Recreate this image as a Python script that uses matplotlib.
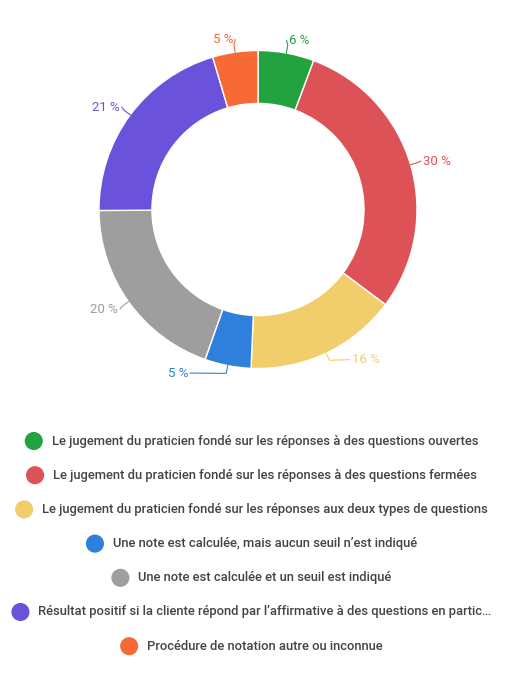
import numpy as np
import matplotlib
matplotlib.use("Agg")
import matplotlib.pyplot as plt

# categories (legend order = slice order, clockwise from top)
categories = [
    "Le jugement du praticien fondé sur les réponses à des questions ouvertes",
    "Le jugement du praticien fondé sur les réponses à des questions fermées",
    "Le jugement du praticien fondé sur les réponses aux deux types de questions",
    "Une note est calculée, mais aucun seuil n’est indiqué",
    "Une note est calculée et un seuil est indiqué",
    "Résultat positif si la cliente répond par l’affirmative à des questions en partic…",
    "Procédure de notation autre ou inconnue",
]
# shares, labels as printed on the chart
shares = [5.7, 29.5, 15.5, 4.7, 19.5, 20.5, 4.6]
pct_labels = ["6 %", "30 %", "16 %", "5 %", "20 %", "21 %", "5 %"]
colors = ["#22a340", "#dc5257", "#f2cd6b", "#2f7fdd", "#9e9e9e", "#6b52db", "#f86a35"]

plt.rcParams['font.family'] = ['Roboto', 'DejaVu Sans']

W, H = 515, 681
fig = plt.figure(figsize=(W / 100, H / 100), dpi=100)
ax = fig.add_axes([0, 0, 1, 1])

cx, cy, R = 258, H - 209.5, 159
wedges, _ = ax.pie(shares, colors=colors, startangle=90, counterclock=False,
                   center=(cx, cy), radius=R,
                   wedgeprops=dict(width=R * 0.333, edgecolor="white", linewidth=1))
ax.set_xlim(0, W)
ax.set_ylim(0, H)
ax.set_aspect("equal")
ax.axis("off")

# outside labels with short leader lines
nudges = {2: (20, 5), 3: (-37, 5)}
for i, w in enumerate(wedges):
    mid = np.deg2rad((w.theta1 + w.theta2) / 2)
    ux, uy = np.cos(mid), np.sin(mid)
    p0 = (cx + R * ux, cy + R * uy)
    p1 = (cx + R * 1.05 * ux, cy + R * 1.05 * uy)
    tx, ty = cx + R * 1.08 * ux, cy + R * 1.08 * uy
    dx, dy = nudges.get(i, (0, 0))
    tx += dx
    ty += dy
    ha = "left" if ux >= 0 else "right"
    ax.plot([p0[0], p1[0], tx - (2 if ha == "left" else -2)], [p0[1], p1[1], ty],
            color=colors[i], lw=0.8)
    ax.text(tx, ty, pct_labels[i], color=colors[i], fontsize=9.5,
            ha=ha, va="center")

# legend: one centred row per category
fig.canvas.draw()
renderer = fig.canvas.get_renderer()
row_y0, row_gap = 441, 34.2
for i, (lab, col) in enumerate(zip(categories, colors)):
    y = H - (row_y0 + i * row_gap)
    t = ax.text(265, y, lab, color="#444444", fontsize=9.4, fontweight="medium",
                ha="center", va="center")
    bb = t.get_window_extent(renderer=renderer)
    ax.scatter([bb.x0 - 18], [y], s=170, color=col, edgecolors="none")

fig.savefig("out.png", dpi=100)
